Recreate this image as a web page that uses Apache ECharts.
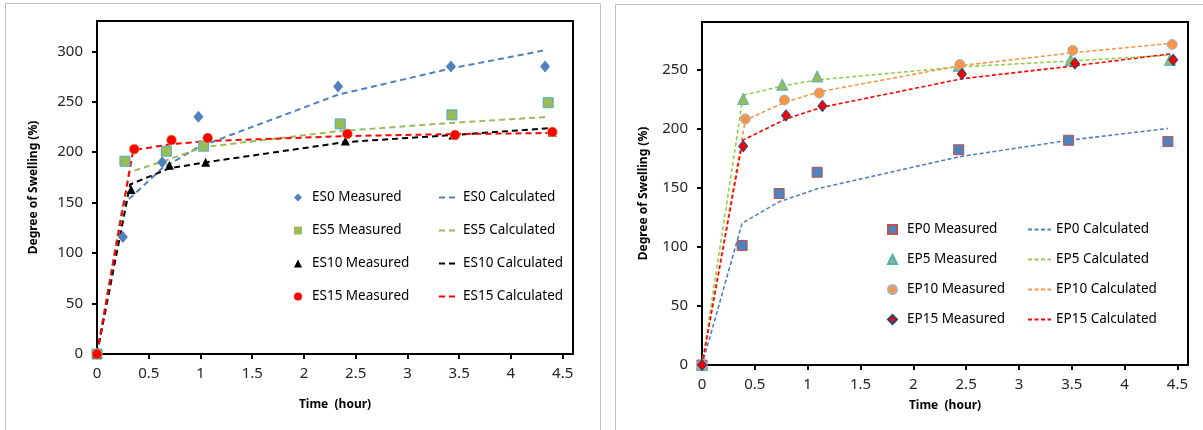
<!DOCTYPE html>
<html>
<head>
<meta charset="utf-8">
<script src="https://cdn.jsdelivr.net/npm/echarts@6/dist/echarts.min.js"></script>
<style>html,body{margin:0;padding:0;background:#fff}#c{width:1203px;height:430px}</style>
</head>
<body>
<div id="c"></div>
<script>
// ---------- Left chart (ES) ----------
const ES0_t = [0, 0.25, 0.63, 0.98, 2.33, 3.42, 4.33];
const ES0_meas = [0, 116, 190, 235, 265, 285, 285];
const ES0_calc = [0, 148, 184, 205, 257, 283, 301];

const ES5_t = [0, 0.27, 0.67, 1.03, 2.35, 3.43, 4.36];
const ES5_meas = [0, 191, 201, 206, 228, 237, 249];
const ES5_calc_t = [0, 0.31, 0.67, 1.03, 2.35, 3.43, 4.36];
const ES5_calc = [0, 180, 192, 205, 221, 229, 235];

const ES10_t = [0, 0.33, 0.70, 1.05, 2.40, 3.44, 4.40];
const ES10_meas = [0, 163, 187, 190, 211, 217, 220];
const ES10_calc_t = [0, 0.32, 0.70, 1.05, 2.40, 3.44, 4.40];
const ES10_calc = [0, 168, 184, 190, 210, 217, 224];

const ES15_t = [0, 0.36, 0.72, 1.07, 2.42, 3.46, 4.40];
const ES15_meas = [0, 203, 212, 214, 218, 217, 220];
const ES15_calc_t = [0, 0.35, 0.72, 1.07, 2.42, 3.46, 4.40];
const ES15_calc = [0, 202, 208, 211, 216, 218, 219];

const leftYTicks = [0, 50, 100, 150, 200, 250, 300];
const xTicks = [0, 0.5, 1, 1.5, 2, 2.5, 3, 3.5, 4, 4.5];

// ---------- Right chart (EP) ----------
const EP0_t = [0, 0.38, 0.73, 1.09, 2.43, 3.47, 4.41];
const EP0_meas = [0, 101, 145, 163, 182, 190, 189];
const EP0_calc = [0, 120, 138, 149, 176, 190, 200];

const EP5_t = [0, 0.39, 0.76, 1.09, 2.43, 3.49, 4.43];
const EP5_meas = [0, 225, 237, 244, 253, 258, 258];
const EP5_calc = [0, 228, 236, 241, 252, 257, 262];

const EP10_t = [0, 0.41, 0.78, 1.11, 2.44, 3.51, 4.45];
const EP10_meas = [0, 208, 224, 230, 254, 266, 271];
const EP10_calc = [0, 207, 222, 231, 253, 264, 272];

const EP15_t = [0, 0.39, 0.795, 1.14, 2.46, 3.53, 4.46];
const EP15_meas = [0, 185, 211, 219, 246, 255, 258];
const EP15_calc_t = [0, 0.385, 0.795, 1.14, 2.46, 3.53, 4.43];
const EP15_calc = [0, 190, 208, 218, 242, 253, 263];

const rightYTicks = [0, 50, 100, 150, 200, 250];

function pairs(xs, ys) { return xs.map((x, i) => [x, ys[i]]); }

const FONT = "'Noto Sans', 'Liberation Sans', sans-serif";

function scatter(name, gi, xs, ys, symbol, size, color, border, bw) {
  return {
    name, type: 'scatter', xAxisIndex: gi, yAxisIndex: gi, data: pairs(xs, ys),
    symbol, symbolSize: size, z: 5,
    itemStyle: { color, borderColor: border || color, borderWidth: bw || 0, opacity: 1 }
  };
}
function calc(name, gi, xs, ys, color, width, dash) {
  return {
    name, type: 'line', xAxisIndex: gi, yAxisIndex: gi, data: pairs(xs, ys),
    symbol: 'none', showSymbol: false, z: 3,
    lineStyle: { color, width, type: dash },
    itemStyle: { color }
  };
}

const L_DASH = [6, 4], R_DASH = [4, 2.5];

const series = [
  scatter('ES0 Measured', 0, ES0_t, ES0_meas, 'diamond', [10, 12], '#4F81BD'),
  scatter('ES5 Measured', 0, ES5_t, ES5_meas, 'rect', 10, '#9BBB59', '#4BACC6', 1),
  scatter('ES10 Measured', 0, ES10_t, ES10_meas, 'triangle', 9, '#000000'),
  scatter('ES15 Measured', 0, ES15_t, ES15_meas, 'circle', 10, '#FF0000', '#C3C870', 0.6),
  calc('ES0 Calculated', 0, ES0_t, ES0_calc, '#4F81BD', 2, L_DASH),
  calc('ES5 Calculated', 0, ES5_calc_t, ES5_calc, '#9BBB59', 2, L_DASH),
  calc('ES10 Calculated', 0, ES10_calc_t, ES10_calc, '#000000', 2, L_DASH),
  calc('ES15 Calculated', 0, ES15_calc_t, ES15_calc, '#FF0000', 2, L_DASH),

  scatter('EP0 Measured', 1, EP0_t, EP0_meas, 'rect', 10, '#4F81BD', '#C0504D', 1),
  scatter('EP5 Measured', 1, EP5_t, EP5_meas, 'triangle', 11, '#9BBB59', '#4BACC6', 1),
  scatter('EP10 Measured', 1, EP10_t, EP10_meas, 'circle', 10, '#F79646', '#A5B4C8', 1),
  scatter('EP15 Measured', 1, EP15_t, EP15_meas, 'diamond', [9, 11], '#FF0000', '#1F497D', 1),
  calc('EP0 Calculated', 1, EP0_t, EP0_calc, '#4F81BD', 1.6, R_DASH),
  calc('EP5 Calculated', 1, EP5_t, EP5_calc, '#92D050', 1.6, R_DASH),
  calc('EP10 Calculated', 1, EP10_t, EP10_calc, '#F79646', 1.6, R_DASH),
  calc('EP15 Calculated', 1, EP15_calc_t, EP15_calc, '#FF0000', 1.6, R_DASH)
];

function xAxis(gi, gap) {
  return {
    type: 'value', gridIndex: gi, min: 0, max: 4.6,
    name: 'Time  (hour)', nameLocation: 'middle', nameGap: gap,
    nameTextStyle: { fontFamily: FONT, fontSize: 12, fontWeight: 'bold', color: '#000' },
    axisLine: { show: true, onZero: false, lineStyle: { color: '#000', width: 2 } },
    axisTick: { show: true, inside: false, length: 5, lineStyle: { color: '#000', width: 2 }, customValues: xTicks },
    axisLabel: { customValues: xTicks, margin: 12, fontFamily: FONT, fontSize: 15, color: '#262626' },
    splitLine: { show: false }
  };
}
function yAxis(gi, max, ticks, gap) {
  return {
    type: 'value', gridIndex: gi, min: 0, max: max,
    name: 'Degree of Swelling (%)', nameLocation: 'middle', nameGap: gap,
    nameTextStyle: { fontFamily: FONT, fontSize: 12, fontWeight: 'bold', color: '#000' },
    axisLine: { show: true, onZero: false, lineStyle: { color: '#000', width: 2 } },
    axisTick: { show: true, inside: false, length: 5, lineStyle: { color: '#000', width: 2 }, customValues: ticks },
    axisLabel: { customValues: ticks, margin: 14, fontFamily: FONT, fontSize: 15, color: '#262626' },
    splitLine: { show: false }
  };
}

function legend(names, left, top, gap, w, h, kind) {
  const l = {
    data: names, left, top, orient: 'vertical', itemGap: gap, itemWidth: w, itemHeight: h,
    selectedMode: false, padding: 0,
    textStyle: { fontFamily: FONT, fontSize: 13.5, color: '#000', lineHeight: 15 }
  };
  if (kind === 'line') l.itemStyle = { opacity: 0 };
  if (kind === 'markNoBorder') { l.itemStyle = { borderWidth: 0 }; l.textStyle.padding = [0, 0, 0, 5]; }
  if (kind === 'mark') { l.textStyle.padding = [0, 0, 0, 5]; }
  return l;
}

const option = {
  animation: false,
  backgroundColor: '#fff',
  graphic: [
    { type: 'rect', shape: { x: 5.5, y: 3.5, width: 595, height: 440 }, style: { fill: 'none', stroke: '#BFBFBF', lineWidth: 1 }, silent: true, z: -10 },
    { type: 'rect', shape: { x: 615.5, y: 4.5, width: 600, height: 440 }, style: { fill: 'none', stroke: '#BFBFBF', lineWidth: 1 }, silent: true, z: -10 }
  ],
  grid: [
    { left: 97, top: 21, right: 630, bottom: 76, show: true, borderColor: '#000', borderWidth: 2, backgroundColor: 'transparent', containLabel: false },
    { left: 702, top: 22, right: 15, bottom: 65, show: true, borderColor: '#000', borderWidth: 2, backgroundColor: 'transparent', containLabel: false }
  ],
  xAxis: [xAxis(0, 45), xAxis(1, 35)],
  yAxis: [yAxis(0, 330, leftYTicks, 57), yAxis(1, 290, rightYTicks, 52)],
  legend: [
    legend(['ES0 Measured', 'ES5 Measured', 'ES10 Measured', 'ES15 Measured'], 294, 190, 18, 8, 8, 'markNoBorder'),
    legend(['ES0 Calculated', 'ES5 Calculated', 'ES10 Calculated', 'ES15 Calculated'], 438, 190, 18, 19, 8, 'line'),
    legend(['EP0 Measured', 'EP5 Measured', 'EP10 Measured', 'EP15 Measured'], 887, 222, 15, 9, 9, 'mark'),
    legend(['EP0 Calculated', 'EP5 Calculated', 'EP10 Calculated', 'EP15 Calculated'], 1027, 222, 15, 23, 8, 'line')
  ],
  series
};

const chart = echarts.init(document.getElementById('c'), null, { renderer: 'canvas' });
chart.setOption(option);
</script>
</body>
</html>
